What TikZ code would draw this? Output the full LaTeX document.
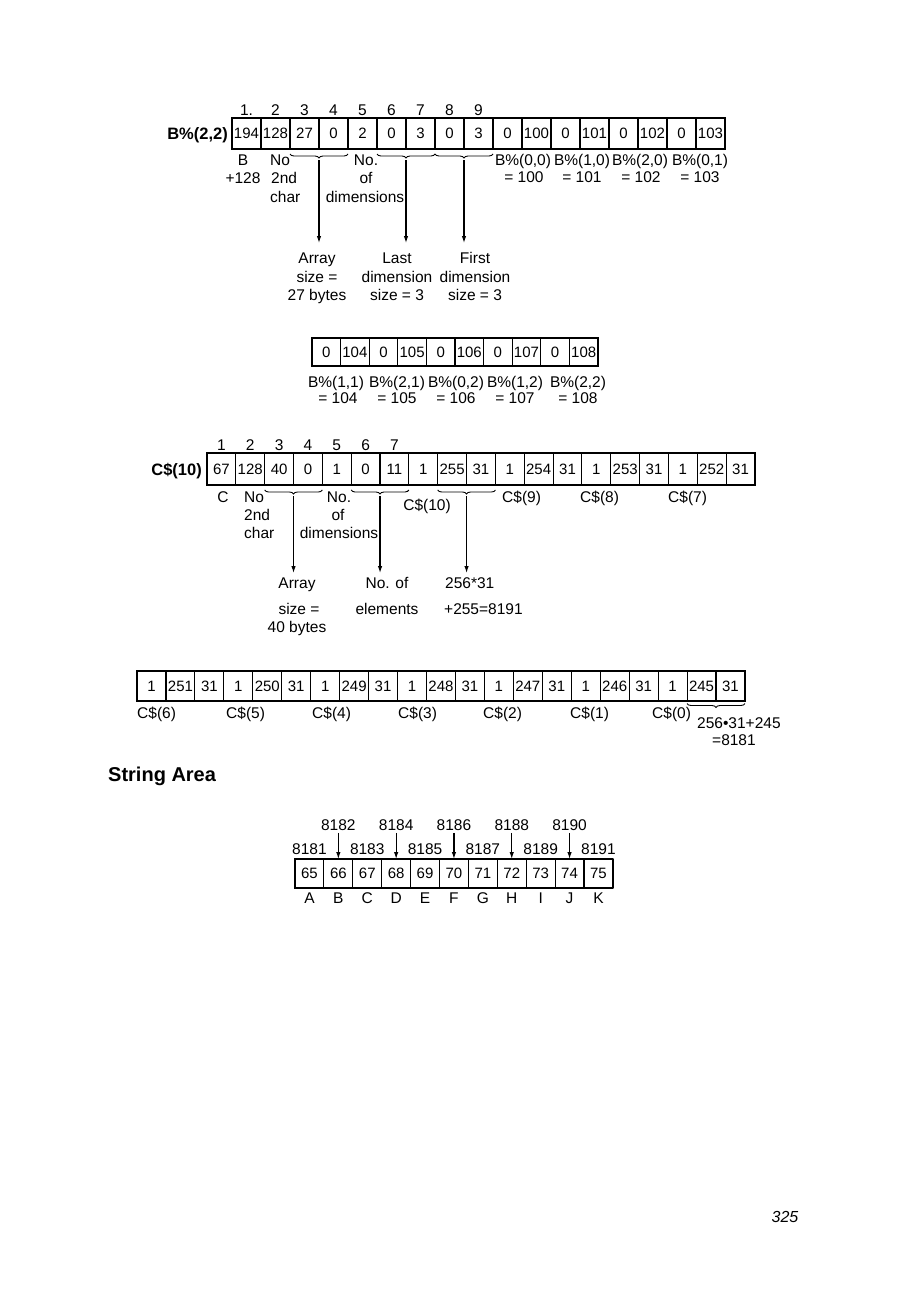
\documentclass[tikz,border=0pt]{standalone}
\usepackage{fontspec}
\setmainfont{Liberation Sans}
\usetikzlibrary{arrows.meta,decorations.pathreplacing}
\tikzset{
  cellbox/.style={draw,line width=1.1pt,inner sep=0pt,outer sep=0pt,font=\fontsize{15}{15}\selectfont},
  frame/.style={line width=2.6pt,line join=round},
  lab/.style={inner sep=0pt,font=\fontsize{15.5}{18}\selectfont,anchor=base},
  labw/.style={inner sep=0pt,font=\fontsize{15.5}{18}\selectfont,anchor=base west},
  title/.style={inner sep=0pt,font=\bfseries\fontsize{16.5}{18}\selectfont,anchor=base east},
  brc/.style={decorate,decoration={brace,mirror,amplitude=4pt},line width=0.9pt},
  arr/.style={line width=1.1pt,-{Latex[length=7pt,width=4.5pt]}},
}
\begin{document}
\begin{tikzpicture}[x=1pt,y=-1pt]
\useasboundingbox[fill=white] (0,0) rectangle (909,1306);

% ---------- Row 1 : B%(2,2)
\foreach \v [count=\i] in {194,128,27,0,2,0,3,0,3,0,100,0,101,0,102,0,103}
  \node[cellbox,minimum width=29pt,minimum height=31pt] (a\i) at ({232+29*\i-14.5},133.5) {\v};
\draw[frame] (a1.north west) rectangle (a17.south east);
\node[title] (bname) at (228,139.5) {B\%(2,2)};
\foreach \n [count=\i] in {1.,2,3,4,5,6,7,8,9}
  \node[lab] (an\i) at (a\i |- 0,115.5) {\n};
\draw[brc] ([yshift=-5pt]a3.south west) -- ([yshift=-5pt]a4.south east);
\draw[brc] ([yshift=-5pt]a6.south west) -- ([yshift=-5pt]a7.south east);
\draw[brc] ([yshift=-5pt]a8.south west) -- ([yshift=-5pt]a9.south east);
\coordinate (t1) at ([yshift=-11pt]a3.south east);
\coordinate (t2) at ([yshift=-11pt]a6.south east);
\coordinate (t3) at ([yshift=-11pt]a8.south east);
\coordinate (e1) at (t1 |- 0,243);
\coordinate (e2) at (t2 |- 0,243);
\coordinate (e3) at (t3 |- 0,243);
\node[lab] (lB1) at (243,165.5) {B};
\node[lab] (lB2) at (243,183.5) {+128};
\node[labw] (lNo1) at (270,165.5) {No};
\node[labw] (lNo2) at (271,183.5) {2nd};
\node[labw] (lNo3) at (270,202.5) {char};
\node[lab] (lD1) at (366,165.5) {No.};
\node[lab] (lD2) at (366,183.5) {of};
\node[lab] (lD3) at (365,202.5) {dimensions};
\node[lab] (ba1) at (523,165.5) {B\%(0,0)};
\node[lab] (ba1v) at (524,182.5) {= 100};
\node[lab] (ba2) at (582,165.5) {B\%(1,0)};
\node[lab] (ba2v) at (582,182.5) {= 101};
\node[lab] (ba3) at (640,165.5) {B\%(2,0)};
\node[lab] (ba3v) at (641,182.5) {= 102};
\node[lab] (ba4) at (700,165.5) {B\%(0,1)};
\node[lab] (ba4v) at (700,182.5) {= 103};
\node[lab] (L1a) at (317,263.5) {Array};
\node[lab] (L1b) at (317,282) {size =};
\node[lab] (L1c) at (317,300.5) {27 bytes};
\node[lab] (L2a) at (397,263.5) {Last};
\node[lab] (L2b) at (397,282) {dimension};
\node[lab] (L2c) at (397,300.5) {size = 3};
\node[lab] (L3a) at (475,263.5) {First};
\node[lab] (L3b) at (475,282) {dimension};
\node[lab] (L3c) at (475,300.5) {size = 3};
\draw[arr] (t1) -- (e1);
\draw[arr] (t2) -- (e2);
\draw[arr] (t3) -- (e3);

% ---------- Row 2
\foreach \v [count=\i] in {0,104,0,105,0,106,0,107,0,108}
  \node[cellbox,minimum width=28.6pt,minimum height=28pt] (b\i) at ({312+28.6*\i-14.3},352) {\v};
\draw[frame] (b1.north west) rectangle (b10.south east);
\node[lab] (bb1) at (336,387.5) {B\%(1,1)};
\node[lab] (bb1v) at (338,403.5) {= 104};
\node[lab] (bb2) at (397,387.5) {B\%(2,1)};
\node[lab] (bb2v) at (397,403.5) {= 105};
\node[lab] (bb3) at (456,387.5) {B\%(0,2)};
\node[lab] (bb3v) at (456,403.5) {= 106};
\node[lab] (bb4) at (515,387.5) {B\%(1,2)};
\node[lab] (bb4v) at (515,403.5) {= 107};
\node[lab] (bb5) at (578,387.5) {B\%(2,2)};
\node[lab] (bb5v) at (578,403.5) {= 108};

% ---------- Row 3 : C$(10)
\foreach \v [count=\i] in {67,128,40,0,1,0,11,1,255,31,1,254,31,1,253,31,1,252,31}
  \node[cellbox,minimum width=28.84pt,minimum height=32pt] (c\i) at ({207+28.84*\i-14.42},469) {\v};
\draw[frame] (c1.north west) rectangle (c19.south east);
\node[title] (cname) at (202,475) {C\$(10)};
\foreach \n [count=\i] in {1,2,3,4,5,6,7}
  \node[lab] (cn\i) at (c\i |- 0,450.5) {\n};
\draw[brc] ([yshift=-5pt]c3.south west) -- ([yshift=-5pt]c4.south east);
\draw[brc] ([yshift=-5pt]c6.south west) -- ([yshift=-5pt]c7.south east);
\draw[brc] ([yshift=-5pt]c9.south west) -- ([yshift=-5pt]c10.south east);
\coordinate (u1) at ([yshift=-11pt]c3.south east);
\coordinate (u2) at ([yshift=-11pt]c6.south east);
\coordinate (u3) at ([yshift=-11pt]c9.south east);
\coordinate (f1) at (u1 |- 0,573);
\coordinate (f2) at (u2 |- 0,573);
\coordinate (f3) at (u3 |- 0,573);
\node[lab] (lC) at (223,502.5) {C};
\node[labw] (lNo4) at (244,502.5) {No};
\node[labw] (lNo5) at (244,520.5) {2nd};
\node[labw] (lNo6) at (244,538.5) {char};
\node[lab] (lD4) at (339,502.5) {No.};
\node[lab] (lD5) at (338,520.5) {of};
\node[lab] (lD6) at (339,538.5) {dimensions};
\node[lab] (lC10) at (427,510.5) {C\$(10)};
\node[labw] (lC9) at (502,502.5) {C\$(9)};
\node[labw] (lC8) at (580,502.5) {C\$(8)};
\node[labw] (lC7) at (668,502.5) {C\$(7)};
\node[lab] (M1a) at (297,588.5) {Array};
\node[lab] (M1b) at (299,614) {size =};
\node[lab] (M1c) at (297,632.5) {40 bytes};
\node[lab] (M2a) at (387,588.5) {No. of};
\node[lab] (M2b) at (387,614) {elements};
\node[labw] (M3a) at (445,588.5) {256*31};
\node[labw] (M3b) at (444,614) {+255=8191};
\draw[arr] (u1) -- (f1);
\draw[arr] (u2) -- (f2);
\draw[arr] (u3) -- (f3);

% ---------- Row 4
\foreach \v [count=\i] in {1,251,31,1,250,31,1,249,31,1,248,31,1,247,31,1,246,31,1,245,31}
  \node[cellbox,minimum width=28.95pt,minimum height=30pt] (d\i) at ({137+28.95*\i-14.475},686) {\v};
\draw[frame] (d1.north west) rectangle (d21.south east);
\foreach \n/\x [count=\i] in {6/137,5/226,4/312,3/398,2/483,1/570,0/652}
  \node[labw] (dl\i) at (\x,718.5) {C\$(\n)};
\draw[brc] ([yshift=-2.5pt]d20.south west) -- ([yshift=-2.5pt]d21.south east);
\node[labw] (dsum1) at (697,728) {256•31+245};
\node[labw] (dsum2) at (712,745) {=8181};

% ---------- String area
\node[anchor=west,inner sep=0pt,font=\bfseries\fontsize{20}{20}\selectfont] (sa) at (108,776) {String Area};
\foreach \v/\l [count=\i] in {65/A,66/B,67/C,68/D,69/E,70/F,71/G,72/H,73/I,74/J,75/K}{
  \node[cellbox,minimum width=28.9pt,minimum height=29pt] (s\i) at ({295+28.9*\i-14.45},873.5) {\v};
  \node[lab] (sl\i) at (s\i |- 0,903.5) {\l};
}
\draw[frame] (s1.north west) rectangle (s11.south east);
\foreach \i in {1,3,5,7,9,11}{
  \pgfmathtruncatemacro\num{8180+\i}
  \node[lab] (sn\i) at (s\i |- 0,854.5) {\num};
}
\foreach \i in {2,4,6,8,10}{
  \pgfmathtruncatemacro\num{8180+\i}
  \node[lab] (sn\i) at (s\i |- 0,830.5) {\num};
  \draw[arr,shorten <=2pt] (sn\i.south) -- (s\i.north);
}

% ---------- page number
\node[inner sep=0pt,font=\itshape\fontsize{16}{16}\selectfont] (pg) at (785,1217) {325};
\end{tikzpicture}
\end{document}
